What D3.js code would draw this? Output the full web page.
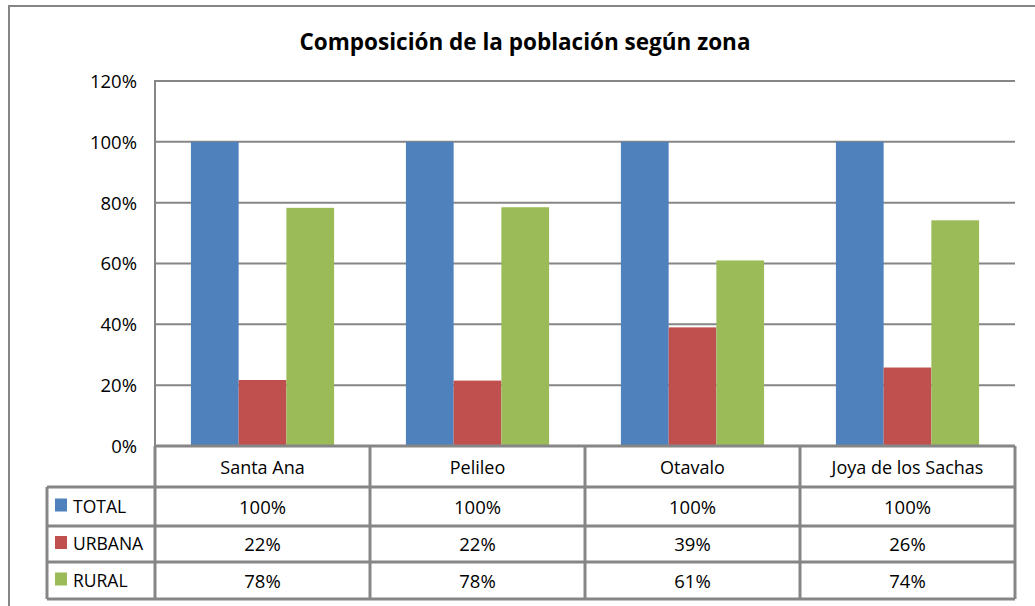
<!DOCTYPE html>
<html>
<head>
<meta charset="utf-8">
<script src="https://cdn.jsdelivr.net/npm/d3@7"></script>
<style>
  body { margin: 0; background: #fff; }
  svg { display: block; font-family: "Open Sans", Lato, sans-serif; }
</style>
</head>
<body>
<svg id="chart" width="1035" height="606"></svg>
<script>
// data
var categories = ['Santa Ana', 'Pelileo', 'Otavalo', 'Joya de los Sachas'];
var seriesNames = ['TOTAL', 'URBANA', 'RURAL'];
var totalValues = [100, 100, 100, 100];
var urbanaValues = [21.7, 21.5, 39, 25.8];
var ruralValues = [78.3, 78.5, 61, 74.2];
var tableLabels = [
  ['100%', '100%', '100%', '100%'],
  ['22%', '22%', '39%', '26%'],
  ['78%', '78%', '61%', '74%']
];
var yTicks = [0, 20, 40, 60, 80, 100, 120];
var colors = ['#4F81BD', '#C0504D', '#9BBB59'];

var svg = d3.select('#chart');
var grey = '#868686';

var plot = { left: 155, right: 1015, top: 81, bottom: 446 };

var x0 = d3.scaleBand()
  .domain(categories)
  .range([plot.left, plot.right])
  .padding(0);

var bw = x0.bandwidth();
var x1 = d3.scaleBand()
  .domain(seriesNames)
  .range([bw * 0.167, bw * 0.833])
  .padding(0);

var y = d3.scaleLinear()
  .domain([0, 120])
  .range([plot.bottom, plot.top]);

var allSeries = [totalValues, urbanaValues, ruralValues];

// outer frame
svg.append('rect')
  .attr('x', 9).attr('y', 6)
  .attr('width', 1040).attr('height', 620)
  .attr('fill', 'none')
  .attr('stroke', grey).attr('stroke-width', 2);

// title
svg.append('text')
  .attr('x', 525).attr('y', 50)
  .attr('text-anchor', 'middle')
  .attr('font-size', 22.5)
  .attr('font-weight', 'bold')
  .attr('fill', '#000')
  .text('Composición de la población según zona');

// gridlines
svg.append('g')
  .selectAll('line')
  .data(yTicks.filter(function(d) { return d > 0; }))
  .join('line')
  .attr('x1', plot.left).attr('x2', plot.right)
  .attr('y1', function(d) { return y(d); })
  .attr('y2', function(d) { return y(d); })
  .attr('stroke', grey).attr('stroke-width', 2);

// y axis labels
var yAxis = d3.axisLeft(y)
  .tickValues(yTicks)
  .tickFormat(function(d) { return d + '%'; })
  .tickSize(0)
  .tickPadding(18);

var yg = svg.append('g')
  .attr('transform', 'translate(' + plot.left + ',0)')
  .call(yAxis);
yg.select('.domain').remove();
yg.selectAll('text')
  .attr('font-size', 18.5)
  .attr('font-family', '"Open Sans", Lato, sans-serif')
  .attr('fill', '#000')
  .attr('dy', '0.35em');

// bars
var groups = svg.append('g')
  .selectAll('g')
  .data(categories)
  .join('g')
  .attr('transform', function(d) { return 'translate(' + x0(d) + ',0)'; });

groups.selectAll('rect')
  .data(function(d, i) {
    return seriesNames.map(function(s, j) { return { s: s, v: allSeries[j][i], j: j }; });
  })
  .join('rect')
  .attr('x', function(d) { return x1(d.s); })
  .attr('width', x1.bandwidth())
  .attr('y', function(d) { return y(d.v); })
  .attr('height', function(d) { return y(0) - y(d.v); })
  .attr('fill', function(d) { return colors[d.j]; });

// y axis line
svg.append('line')
  .attr('x1', plot.left).attr('x2', plot.left)
  .attr('y1', plot.top - 1).attr('y2', plot.bottom)
  .attr('stroke', grey).attr('stroke-width', 2);

// data table
var catRow = { top: plot.bottom, bottom: 487 };
var rowTops = [487, 526, 562];
var rowH = [39, 36, 37];
var tableBottom = 599;
var tableLeft = 47;
var tbl = svg.append('g');

// category header row lines
tbl.append('line')
  .attr('x1', plot.left).attr('x2', plot.right)
  .attr('y1', plot.bottom).attr('y2', plot.bottom)
  .attr('stroke', grey).attr('stroke-width', 3);

tbl.selectAll('.catdiv')
  .data(categories.map(function(c) { return x0(c); }).concat([plot.right]))
  .join('line')
  .attr('class', 'catdiv')
  .attr('x1', function(d) { return d; }).attr('x2', function(d) { return d; })
  .attr('y1', plot.bottom).attr('y2', tableBottom)
  .attr('stroke', grey).attr('stroke-width', 3);

tbl.selectAll('.cat')
  .data(categories)
  .join('text')
  .attr('class', 'cat')
  .attr('x', function(d) { return x0(d) + bw / 2; })
  .attr('y', (catRow.top + catRow.bottom) / 2 + 1)
  .attr('dy', '0.35em')
  .attr('text-anchor', 'middle')
  .attr('font-size', 18)
  .attr('fill', '#000')
  .text(function(d) { return d; });

// horizontal row lines
var hLines = rowTops.concat([tableBottom]);
tbl.selectAll('.hl')
  .data(hLines)
  .join('line')
  .attr('class', 'hl')
  .attr('x1', tableLeft).attr('x2', plot.right)
  .attr('y1', function(d) { return d; }).attr('y2', function(d) { return d; })
  .attr('stroke', grey).attr('stroke-width', 3);

tbl.append('line')
  .attr('x1', tableLeft).attr('x2', tableLeft)
  .attr('y1', rowTops[0]).attr('y2', tableBottom)
  .attr('stroke', grey).attr('stroke-width', 3);

// legend + values
seriesNames.forEach(function(s, i) {
  var cy = rowTops[i] + rowH[i] / 2;
  tbl.append('rect')
    .attr('x', 55).attr('y', cy - 8)
    .attr('width', 12).attr('height', 13)
    .attr('fill', colors[i]);
  tbl.append('text')
    .attr('x', 73).attr('y', cy)
    .attr('dy', '0.35em')
    .attr('font-size', 17.5)
    .attr('fill', '#000')
    .text(s);
  tbl.selectAll('.v' + i)
    .data(categories)
    .join('text')
    .attr('class', 'v' + i)
    .attr('x', function(d) { return x0(d) + bw / 2; })
    .attr('y', cy + 1)
    .attr('dy', '0.35em')
    .attr('text-anchor', 'middle')
    .attr('font-size', 18.5)
    .attr('fill', '#000')
    .text(function(d, k) { return tableLabels[i][k]; });
});
</script>
</body>
</html>
